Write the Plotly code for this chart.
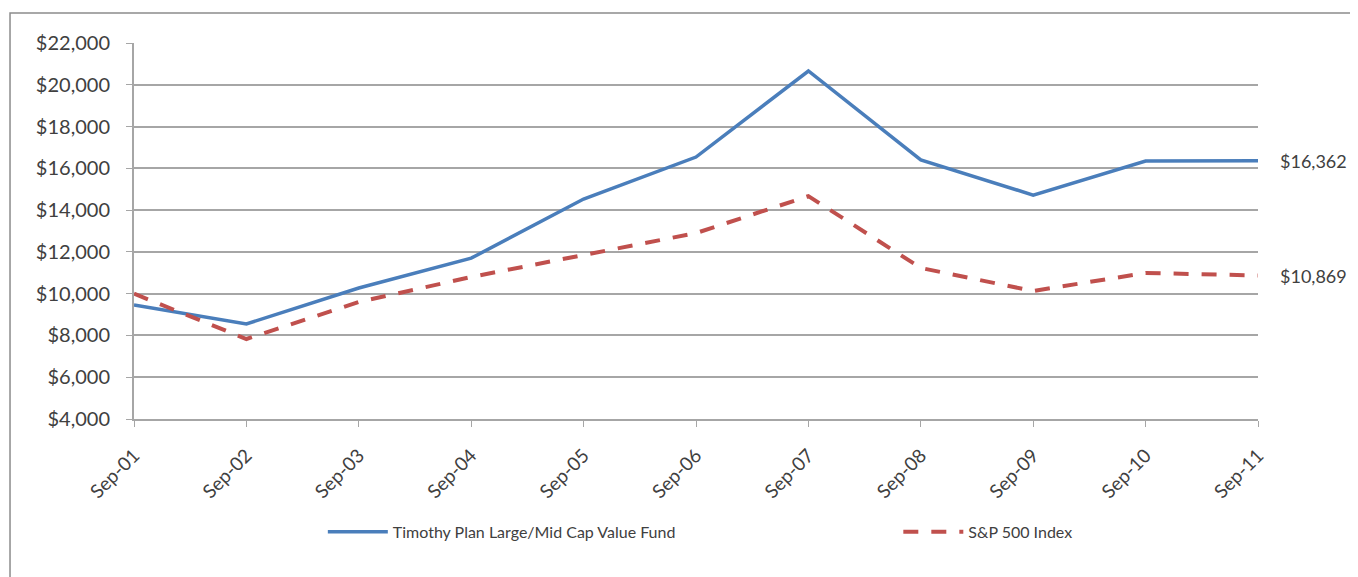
import plotly.graph_objects as go

# Growth of $10,000
years = ["Sep-01", "Sep-02", "Sep-03", "Sep-04", "Sep-05", "Sep-06",
         "Sep-07", "Sep-08", "Sep-09", "Sep-10", "Sep-11"]
fund = [9457, 8550, 10270, 11700, 14530, 16540, 20660, 16400, 14720, 16350, 16362]
sp500 = [10000, 7830, 9600, 10800, 11850, 12900, 14670, 11230, 10130, 10990, 10869]
fund_name = "Timothy Plan Large/Mid Cap Value Fund"
index_name = "S&P 500 Index"
y_ticks = list(range(4000, 22001, 2000))

font_family = "Lato, 'Open Sans', sans-serif"
text_color = "#404040"

fig = go.Figure()

fig.add_trace(
    go.Scatter(
        x=years,
        y=fund,
        mode="lines",
        name=fund_name,
        legend="legend",
        line=dict(color="#4a7ebb", width=3.5)
    )
)

fig.add_trace(
    go.Scatter(
        x=years,
        y=sp500,
        mode="lines",
        name=index_name,
        legend="legend2",
        line=dict(color="#c0504d", width=4, dash="15px,13px")
    )
)

# end labels
for vals in (fund, sp500):
    fig.add_annotation(x=years[-1], y=vals[-1], text="${:,}".format(vals[-1]),
                       showarrow=False, xanchor="left", xshift=20,
                       font=dict(size=18, color=text_color, family=font_family))

# outer chart border
fig.add_shape(type="rect", xref="paper", yref="paper",
              x0=-0.1103, x1=1.2, y0=-0.5, y1=1.0798,
              line=dict(color="#8c8c8c", width=1.5), layer="below")

fig.update_xaxes(
    type="category",
    range=[0, len(years) - 1],
    tickangle=-45,
    ticks="outside",
    ticklen=6,
    tickcolor="#a6a6a6",
    showline=True,
    linecolor="#a6a6a6",
    linewidth=2,
    showgrid=False,
    ticklabelstandoff=10,
    tickfont=dict(size=19, color=text_color, family=font_family)
)

fig.update_yaxes(
    range=[4000, 22000],
    tickvals=y_ticks,
    ticktext=["${:,}".format(v) for v in y_ticks],
    ticks="outside",
    ticklen=6,
    tickcolor="#a6a6a6",
    showline=True,
    linecolor="#a6a6a6",
    linewidth=2,
    gridcolor="#a6a6a6",
    gridwidth=1.5,
    zeroline=False,
    ticklabelstandoff=12,
    tickfont=dict(size=20, color=text_color, family=font_family)
)

legend_font = dict(size=16, color=text_color, family=font_family)

fig.update_layout(
    width=1350,
    height=569,
    margin=dict(l=126, r=100, t=35, b=158, autoexpand=False),
    plot_bgcolor="white",
    paper_bgcolor="white",
    showlegend=True,
    legend=dict(x=0.168, y=-0.30, xanchor="left", yanchor="middle",
                itemwidth=60, font=legend_font),
    legend2=dict(x=0.680, y=-0.30, xanchor="left", yanchor="middle",
                 itemwidth=60, font=legend_font)
)

fig.write_html("out.html")
